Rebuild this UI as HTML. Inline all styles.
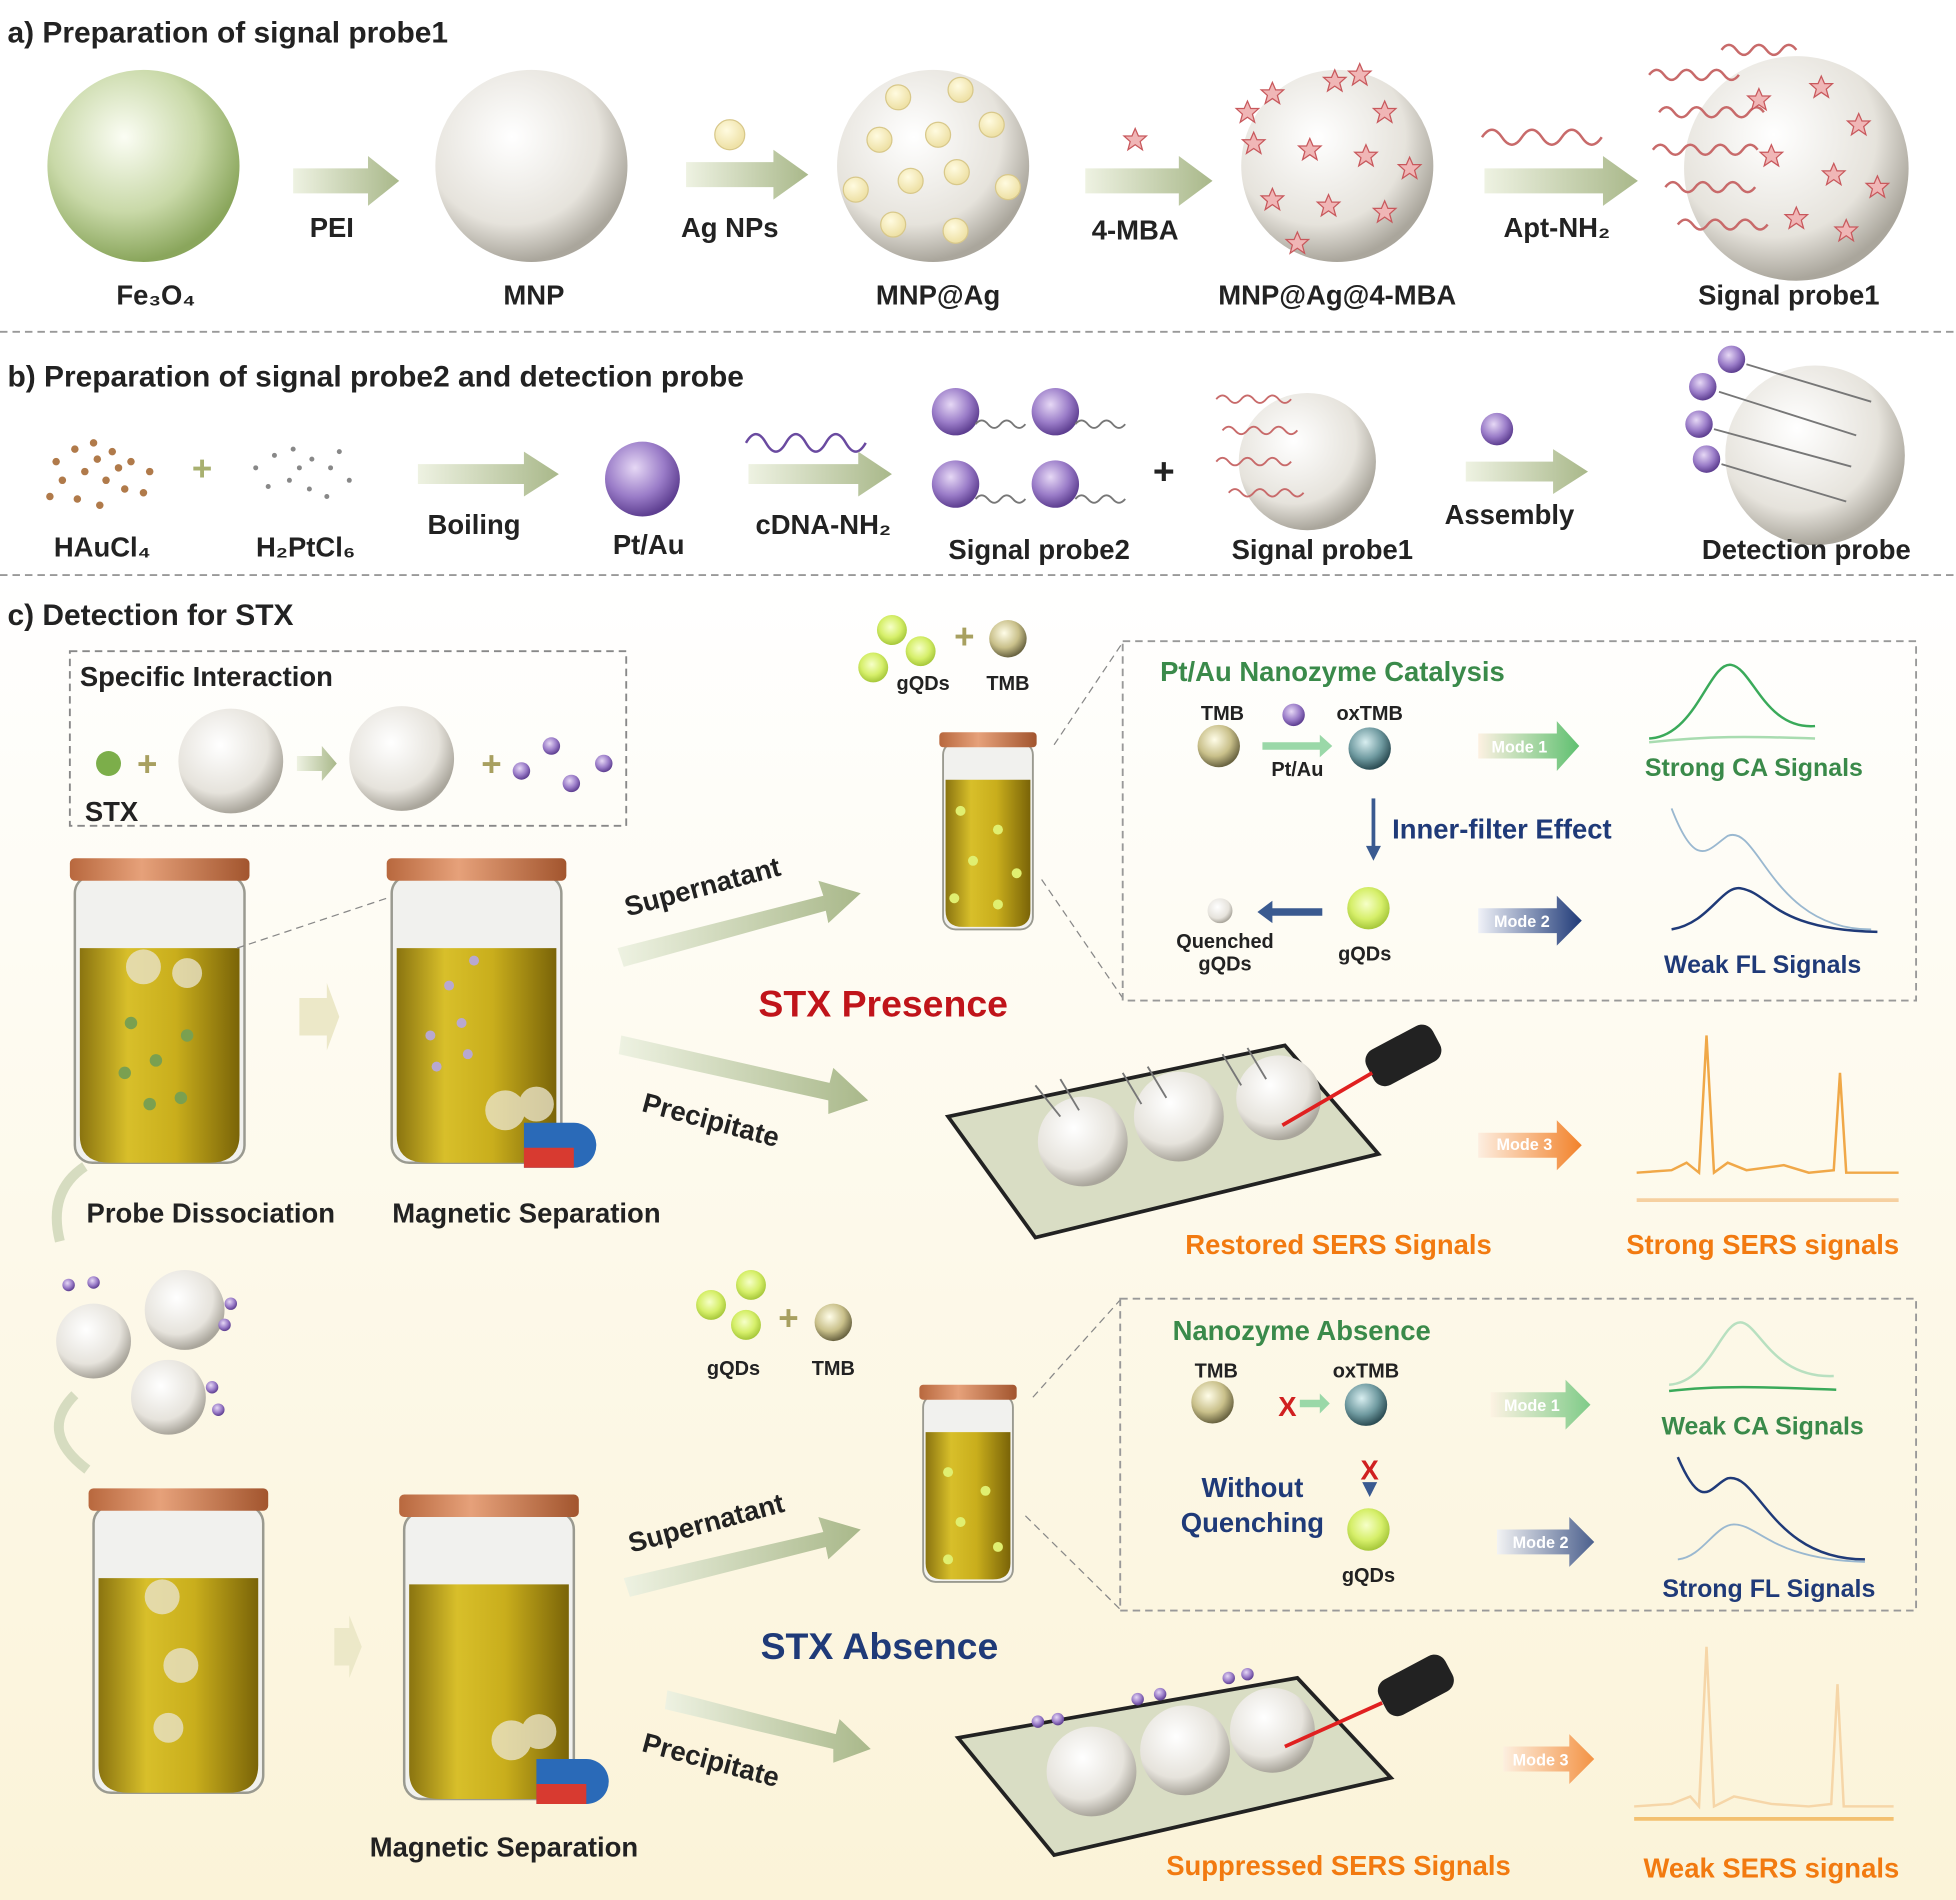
<!DOCTYPE html>
<html><head><meta charset="utf-8">
<style>
html,body{margin:0;padding:0;background:#fff;}
svg{display:block;}
text{font-family:"Liberation Sans",sans-serif;font-weight:bold;}
</style></head>
<body>
<svg width="1956" height="1900" viewBox="0 0 1568 1523" preserveAspectRatio="none" xmlns="http://www.w3.org/2000/svg">
<defs>
<radialGradient id="gGreen" cx="40%" cy="35%" r="65%"><stop offset="0" stop-color="#fbfdf4"/><stop offset="0.6" stop-color="#c9d9a8"/><stop offset="1" stop-color="#8aa65c"/></radialGradient>
<radialGradient id="gWhite" cx="40%" cy="35%" r="65%"><stop offset="0" stop-color="#ffffff"/><stop offset="0.7" stop-color="#e6e3dc"/><stop offset="1" stop-color="#aaa69c"/></radialGradient>
<radialGradient id="gY" cx="40%" cy="35%" r="60%"><stop offset="0" stop-color="#fffbe0"/><stop offset="1" stop-color="#efe2a8"/></radialGradient>
<radialGradient id="gPurple" cx="40%" cy="35%" r="65%"><stop offset="0" stop-color="#e6d8f5"/><stop offset="0.6" stop-color="#9a7cc8"/><stop offset="1" stop-color="#5e3f91"/></radialGradient>
<radialGradient id="gTMB" cx="40%" cy="35%" r="65%"><stop offset="0" stop-color="#fffde8"/><stop offset="0.6" stop-color="#c9c08a"/><stop offset="1" stop-color="#6b6542"/></radialGradient>
<radialGradient id="gOx" cx="40%" cy="35%" r="65%"><stop offset="0" stop-color="#d8eef0"/><stop offset="0.6" stop-color="#6f9aa0"/><stop offset="1" stop-color="#2d4e55"/></radialGradient>
<radialGradient id="gQD" cx="45%" cy="40%" r="60%"><stop offset="0" stop-color="#f6ffc8"/><stop offset="0.6" stop-color="#d6ef6a"/><stop offset="1" stop-color="#a6c73a"/></radialGradient>
<linearGradient id="gArrow" x1="0" x2="1"><stop offset="0" stop-color="#eef2e2"/><stop offset="1" stop-color="#a9b88a"/></linearGradient>
<linearGradient id="gBg" x1="0" y1="0" x2="0" y2="1"><stop offset="0" stop-color="#ffffff"/><stop offset="0.5" stop-color="#fdf9ea"/><stop offset="1" stop-color="#fbf3d8"/></linearGradient>
<linearGradient id="gLiquid" x1="0" x2="1"><stop offset="0" stop-color="#8a7410"/><stop offset="0.3" stop-color="#d8bf2a"/><stop offset="0.6" stop-color="#c9ae1c"/><stop offset="1" stop-color="#7a6408"/></linearGradient>
<linearGradient id="gLid" x1="0" x2="1"><stop offset="0" stop-color="#b8683e"/><stop offset="0.4" stop-color="#e6a17a"/><stop offset="1" stop-color="#a2552e"/></linearGradient>
<linearGradient id="gM1" x1="0" x2="1"><stop offset="0" stop-color="#fdf1e2"/><stop offset="1" stop-color="#5fc070"/></linearGradient>
<linearGradient id="gM2" x1="0" x2="1"><stop offset="0" stop-color="#f0f2f8"/><stop offset="1" stop-color="#1f3a78"/></linearGradient>
<linearGradient id="gM3" x1="0" x2="1"><stop offset="0" stop-color="#fdeee0"/><stop offset="1" stop-color="#f2822a"/></linearGradient>
<g id="star"><polygon points="0,-9 2.6,-3 9,-3 4,1.5 5.8,8 0,4 -5.8,8 -4,1.5 -9,-3 -2.6,-3" fill="#f0b6b6" stroke="#c8585c" stroke-width="1"/></g>
<g id="vial">
 <rect x="-68" y="-8" width="136" height="230" rx="14" fill="#f1f1ee" stroke="#9a9a90" stroke-width="2"/>
 <path d="M-64 50 H64 V200 Q64 222 40 222 H-40 Q-64 222 -64 200 Z" fill="url(#gLiquid)"/>
 <rect x="-72" y="-22" width="144" height="18" rx="4" fill="url(#gLid)"/>
</g>
<g id="svial">
 <rect x="-36" y="0" width="72" height="150" rx="10" fill="#f1f1ee" stroke="#9a9a90" stroke-width="1.5"/>
 <path d="M-34 30 H34 V135 Q34 148 20 148 H-20 Q-34 148 -34 135 Z" fill="url(#gLiquid)"/>
 <rect x="-39" y="-8" width="78" height="12" rx="3" fill="url(#gLid)"/>
</g>
</defs>

<rect x="0" y="0" width="1568" height="1523" fill="#fff"/>
<rect x="0" y="462" width="1568" height="1061" fill="url(#gBg)"/>

<!-- Section a -->
<text x="6" y="34" font-size="24" fill="#222">a) Preparation of signal probe1</text>
<circle cx="115" cy="133" r="77" fill="url(#gGreen)"/>
<circle cx="426" cy="133" r="77" fill="url(#gWhite)"/>
<circle cx="748" cy="133" r="77" fill="url(#gWhite)"/>
<g fill="url(#gY)" stroke="#d8c88a">
<circle cx="720" cy="78" r="10"/><circle cx="770" cy="72" r="10"/><circle cx="705" cy="112" r="10"/><circle cx="752" cy="108" r="10"/><circle cx="795" cy="100" r="10"/><circle cx="686" cy="152" r="10"/><circle cx="730" cy="145" r="10"/><circle cx="767" cy="138" r="10"/><circle cx="808" cy="150" r="10"/><circle cx="716" cy="180" r="10"/><circle cx="766" cy="185" r="10"/></g>
<circle cx="585" cy="108" r="12" fill="url(#gY)" stroke="#d8c88a"/>
<circle cx="1072" cy="133" r="77" fill="url(#gWhite)"/>
<g><use href="#star" x="1020" y="75"/><use href="#star" x="1070" y="65"/><use href="#star" x="1110" y="90"/><use href="#star" x="1005" y="115"/><use href="#star" x="1050" y="120"/><use href="#star" x="1095" y="125"/><use href="#star" x="1130" y="135"/><use href="#star" x="1020" y="160"/><use href="#star" x="1065" y="165"/><use href="#star" x="1110" y="170"/><use href="#star" x="1040" y="195"/><use href="#star" x="1090" y="60"/><use href="#star" x="1000" y="90"/></g>
<use href="#star" x="910" y="112"/>
<circle cx="1440" cy="135" r="90" fill="url(#gWhite)"/>
<g stroke="#c86a6a" stroke-width="2" fill="none">
<path d="M1322 60 q6 -8 12 0 t12 0 t12 0 t12 0 t12 0 t12 0"/>
<path d="M1330 90 q6 -8 12 0 t12 0 t12 0 t12 0 t12 0 t12 0 t12 0"/>
<path d="M1325 120 q6 -8 12 0 t12 0 t12 0 t12 0 t12 0 t12 0 t12 0"/>
<path d="M1335 150 q6 -8 12 0 t12 0 t12 0 t12 0 t12 0 t12 0"/>
<path d="M1345 180 q6 -8 12 0 t12 0 t12 0 t12 0 t12 0 t12 0"/>
<path d="M1380 40 q6 -8 12 0 t12 0 t12 0 t12 0 t12 0"/>
<path d="M1188 110 q8 -12 16 0 t16 0 t16 0 t16 0 t16 0 t16 0"/>
</g>
<g><use href="#star" x="1410" y="80"/><use href="#star" x="1460" y="70"/><use href="#star" x="1490" y="100"/><use href="#star" x="1420" y="125"/><use href="#star" x="1470" y="140"/><use href="#star" x="1505" y="150"/><use href="#star" x="1440" y="175"/><use href="#star" x="1480" y="185"/></g>
<g fill="url(#gArrow)">
<polygon points="235,135 295,135 295,125 320,145 295,165 295,155 235,155"/>
<polygon points="550,130 620,130 620,120 648,140 620,160 620,150 550,150"/>
<polygon points="870,135 945,135 945,125 972,145 945,165 945,155 870,155"/>
<polygon points="1190,135 1285,135 1285,125 1313,145 1285,165 1285,155 1190,155"/>
</g>
<g font-size="22" fill="#222" text-anchor="middle">
<text x="125" y="244">Fe₃O₄</text><text x="266" y="190">PEI</text><text x="428" y="244">MNP</text>
<text x="585" y="190">Ag NPs</text><text x="752" y="244">MNP@Ag</text><text x="910" y="192">4-MBA</text>
<text x="1072" y="244">MNP@Ag@4-MBA</text><text x="1248" y="190">Apt-NH₂</text><text x="1434" y="244">Signal probe1</text>
</g>
<line x1="0" y1="266" x2="1568" y2="266" stroke="#999" stroke-width="1.5" stroke-dasharray="6,4"/>

<!-- Section b -->
<text x="6" y="310" font-size="24" fill="#222">b) Preparation of signal probe2 and detection probe</text>
<g fill="#b07a4a"><circle cx="45" cy="370" r="3"/><circle cx="60" cy="360" r="3"/><circle cx="75" cy="355" r="3"/><circle cx="90" cy="362" r="3"/><circle cx="105" cy="370" r="3"/><circle cx="120" cy="378" r="3"/><circle cx="50" cy="385" r="3"/><circle cx="68" cy="378" r="3"/><circle cx="85" cy="385" r="3"/><circle cx="100" cy="392" r="3"/><circle cx="115" cy="395" r="3"/><circle cx="40" cy="398" r="3"/><circle cx="62" cy="400" r="3"/><circle cx="80" cy="405" r="3"/><circle cx="95" cy="375" r="3"/><circle cx="78" cy="368" r="3"/></g>
<g fill="#888"><circle cx="205" cy="375" r="2"/><circle cx="220" cy="365" r="2"/><circle cx="235" cy="360" r="2"/><circle cx="250" cy="368" r="2"/><circle cx="265" cy="375" r="2"/><circle cx="280" cy="385" r="2"/><circle cx="215" cy="390" r="2"/><circle cx="232" cy="385" r="2"/><circle cx="248" cy="392" r="2"/><circle cx="262" cy="398" r="2"/><circle cx="240" cy="375" r="2"/><circle cx="272" cy="362" r="2"/></g>
<text x="162" y="385" font-size="28" fill="#a8b070" text-anchor="middle">+</text>
<polygon points="335,372 420,372 420,362 448,380 420,398 420,388 335,388" fill="url(#gArrow)"/>
<circle cx="515" cy="384" r="30" fill="url(#gPurple)"/>
<path d="M598 355 q8 -14 16 0 t16 0 t16 0 t16 0 t16 0 t16 0" stroke="#6a4aa0" stroke-width="2" fill="none"/>
<polygon points="600,372 688,372 688,362 715,380 688,398 688,388 600,388" fill="url(#gArrow)"/>
<g><circle cx="766" cy="330" r="19" fill="url(#gPurple)"/><circle cx="846" cy="330" r="19" fill="url(#gPurple)"/><circle cx="766" cy="388" r="19" fill="url(#gPurple)"/><circle cx="846" cy="388" r="19" fill="url(#gPurple)"/>
<g stroke="#777" stroke-width="1.5" fill="none"><path d="M782 340 q5 -6 10 0 t10 0 t10 0 t10 0"/><path d="M862 340 q5 -6 10 0 t10 0 t10 0 t10 0"/><path d="M782 400 q5 -6 10 0 t10 0 t10 0 t10 0"/><path d="M862 400 q5 -6 10 0 t10 0 t10 0 t10 0"/></g></g>
<text x="933" y="388" font-size="30" fill="#222" text-anchor="middle">+</text>
<circle cx="1048" cy="370" r="55" fill="url(#gWhite)"/>
<g stroke="#c86a6a" stroke-width="1.5" fill="none"><path d="M975 320 q5 -6 10 0 t10 0 t10 0 t10 0 t10 0 t10 0"/><path d="M980 345 q5 -6 10 0 t10 0 t10 0 t10 0 t10 0 t10 0"/><path d="M975 370 q5 -6 10 0 t10 0 t10 0 t10 0 t10 0 t10 0"/><path d="M985 395 q5 -6 10 0 t10 0 t10 0 t10 0 t10 0 t10 0"/></g>
<circle cx="1200" cy="344" r="13" fill="url(#gPurple)"/>
<polygon points="1175,370 1245,370 1245,360 1273,378 1245,396 1245,386 1175,386" fill="url(#gArrow)"/>
<circle cx="1455" cy="365" r="72" fill="url(#gWhite)"/>
<g><circle cx="1388" cy="288" r="11" fill="url(#gPurple)"/><circle cx="1365" cy="310" r="11" fill="url(#gPurple)"/><circle cx="1362" cy="340" r="11" fill="url(#gPurple)"/><circle cx="1368" cy="368" r="11" fill="url(#gPurple)"/></g>
<g stroke="#777" stroke-width="1.5" fill="none"><path d="M1400 292 l100 30"/><path d="M1378 314 l110 35"/><path d="M1374 344 l110 30"/><path d="M1380 372 l100 30"/></g>
<g font-size="22" fill="#222" text-anchor="middle">
<text x="82" y="446">HAuCl₄</text><text x="245" y="446">H₂PtCl₆</text><text x="380" y="428">Boiling</text><text x="520" y="444">Pt/Au</text>
<text x="660" y="428">cDNA-NH₂</text><text x="833" y="448">Signal probe2</text><text x="1060" y="448">Signal probe1</text>
<text x="1210" y="420">Assembly</text><text x="1448" y="448">Detection probe</text></g>
<line x1="0" y1="461" x2="1568" y2="461" stroke="#999" stroke-width="1.5" stroke-dasharray="6,4"/>

<!-- Section c -->
<text x="6" y="501" font-size="24" fill="#222">c) Detection for STX</text>
<rect x="56" y="522" width="446" height="140" fill="none" stroke="#888" stroke-width="1.5" stroke-dasharray="6,4"/>
<text x="64" y="550" font-size="22" fill="#222">Specific Interaction</text>
<text x="68" y="658" font-size="22" fill="#222">STX</text>
<circle cx="87" cy="612" r="10" fill="#7cae4a"/><text x="118" y="622" font-size="28" fill="#a8a060" text-anchor="middle">+</text>
<circle cx="185" cy="610" r="42" fill="url(#gWhite)"/><circle cx="322" cy="608" r="42" fill="url(#gWhite)"/>
<polygon points="238,606 258,606 258,598 270,612 258,626 258,618 238,618" fill="url(#gArrow)"/>
<text x="394" y="622" font-size="28" fill="#a8a060" text-anchor="middle">+</text>
<g fill="url(#gPurple)"><circle cx="442" cy="598" r="7"/><circle cx="418" cy="618" r="7"/><circle cx="458" cy="628" r="7"/><circle cx="484" cy="612" r="7"/></g>

<use href="#vial" x="128" y="710"/>
<use href="#vial" x="382" y="710"/>
<g fill="#e8e2c8" opacity="0.8"><circle cx="115" cy="775" r="14"/><circle cx="150" cy="780" r="12"/><circle cx="405" cy="890" r="16"/><circle cx="430" cy="885" r="14"/></g>
<g fill="#7aa050"><circle cx="105" cy="820" r="5"/><circle cx="150" cy="830" r="5"/><circle cx="125" cy="850" r="5"/><circle cx="100" cy="860" r="5"/><circle cx="145" cy="880" r="5"/><circle cx="120" cy="885" r="5"/></g>
<g fill="#b8a8d0"><circle cx="360" cy="790" r="4"/><circle cx="380" cy="770" r="4"/><circle cx="370" cy="820" r="4"/><circle cx="345" cy="830" r="4"/><circle cx="375" cy="845" r="4"/><circle cx="350" cy="855" r="4"/></g>
<path d="M420 900 h40 a18 18 0 0 1 0 36 h-40 z" fill="#2a6ab8"/><path d="M420 920 h40 v16 h-40z" fill="#d83a30"/>
<polygon points="240,800 262,800 262,788 272,815 262,842 262,830 240,830" fill="#ece8c8"/>
<line x1="190" y1="760" x2="310" y2="720" stroke="#888" stroke-dasharray="6,4"/>
<g font-size="22" fill="#222" text-anchor="middle"><text x="169" y="980">Probe Dissociation</text><text x="422" y="980">Magnetic Separation</text><text x="404" y="1488">Magnetic Separation</text></g>
<path d="M48 995 q-10 -40 20 -60" stroke="#d6dcc0" stroke-width="8" fill="none"/>
<path d="M60 1118 q-30 30 10 60" stroke="#d6dcc0" stroke-width="8" fill="none"/>

<!-- supernatant/precipitate arrows top -->
<polygon points="495,760 660,718 656,706 690,716 664,740 662,730 500,775" fill="url(#gArrow)"/>
<text x="565" y="718" font-size="22" fill="#222" text-anchor="middle" transform="rotate(-15 565 718)">Supernatant</text>
<polygon points="498,830 665,868 668,856 696,882 664,893 664,882 496,845" fill="url(#gArrow)"/>
<text x="568" y="905" font-size="22" fill="#222" text-anchor="middle" transform="rotate(15 568 905)">Precipitate</text>
<text x="708" y="815" font-size="30" fill="#c0141a" text-anchor="middle">STX Presence</text>

<g><circle cx="715" cy="505" r="12" fill="url(#gQD)"/><circle cx="738" cy="522" r="12" fill="url(#gQD)"/><circle cx="700" cy="535" r="12" fill="url(#gQD)"/><text x="773" y="520" font-size="28" fill="#a8a060" text-anchor="middle">+</text><circle cx="808" cy="512" r="15" fill="url(#gTMB)"/>
<text x="740" y="553" font-size="16" fill="#222" text-anchor="middle">gQDs</text><text x="808" y="553" font-size="16" fill="#222" text-anchor="middle">TMB</text></g>
<use href="#svial" x="792" y="595"/>
<g fill="#e0ef70"><circle cx="770" cy="650" r="4"/><circle cx="800" cy="665" r="4"/><circle cx="780" cy="690" r="4"/><circle cx="815" cy="700" r="4"/><circle cx="765" cy="720" r="4"/><circle cx="800" cy="725" r="4"/></g>
<line x1="845" y1="597" x2="900" y2="515" stroke="#888" stroke-dasharray="6,4"/><line x1="835" y1="705" x2="900" y2="800" stroke="#888" stroke-dasharray="6,4"/>
<rect x="900" y="514" width="636" height="288" fill="none" stroke="#999" stroke-width="1.5" stroke-dasharray="6,4"/>
<text x="930" y="546" font-size="22" fill="#3a8a4a">Pt/Au Nanozyme Catalysis</text>
<text x="980" y="577" font-size="16" fill="#222" text-anchor="middle">TMB</text><text x="1098" y="577" font-size="16" fill="#222" text-anchor="middle">oxTMB</text>
<circle cx="977" cy="598" r="17" fill="url(#gTMB)"/><circle cx="1037" cy="573" r="9" fill="url(#gPurple)"/><circle cx="1098" cy="600" r="17" fill="url(#gOx)"/>
<polygon points="1012,595 1058,595 1058,589 1068,598 1058,607 1058,601 1012,601" fill="#9ad8a8"/>
<text x="1040" y="622" font-size="16" fill="#222" text-anchor="middle">Pt/Au</text>
<line x1="1101" y1="640" x2="1101" y2="680" stroke="#3a5a90" stroke-width="3"/><polygon points="1095,678 1107,678 1101,690" fill="#3a5a90"/>
<text x="1116" y="672" font-size="22" fill="#1f3a78">Inner-filter Effect</text>
<circle cx="978" cy="730" r="10" fill="url(#gWhite)"/><polygon points="1060,728 1020,728 1020,722 1008,731 1020,740 1020,734 1060,734" fill="#3a5a90"/>
<circle cx="1097" cy="728" r="17" fill="url(#gQD)"/>
<text x="982" y="760" font-size="16" fill="#222" text-anchor="middle">Quenched</text><text x="982" y="778" font-size="16" fill="#222" text-anchor="middle">gQDs</text><text x="1094" y="770" font-size="16" fill="#222" text-anchor="middle">gQDs</text>
<polygon points="1185,588 1248,588 1248,578 1266,598 1248,618 1248,608 1185,608" fill="url(#gM1)"/><text x="1218" y="603" font-size="13" fill="#fff" text-anchor="middle">Mode 1</text>
<polygon points="1185,728 1248,728 1248,718 1268,738 1248,758 1248,748 1185,748" fill="url(#gM2)"/><text x="1220" y="743" font-size="13" fill="#fff" text-anchor="middle">Mode 2</text>
<path d="M1322 592 C1360 590 1370 530 1388 533 C1405 536 1415 585 1455 582" stroke="#3aaa5a" stroke-width="2" fill="none"/><path d="M1322 595 C1370 590 1400 590 1455 592" stroke="#a8dcb0" stroke-width="2" fill="none"/>
<text x="1406" y="622" font-size="20" fill="#3a8a4a" text-anchor="middle">Strong CA Signals</text>
<path d="M1340 648 C1360 700 1370 680 1385 670 C1410 660 1420 745 1500 745" stroke="#9ab8d0" stroke-width="1.5" fill="none"/><path d="M1340 745 C1370 740 1380 710 1395 712 C1420 716 1420 745 1505 747" stroke="#1f3a78" stroke-width="2" fill="none"/>
<text x="1413" y="780" font-size="20" fill="#1f3a78" text-anchor="middle">Weak FL Signals</text>

<!-- SERS chip top -->
<polygon points="760,895 1030,838 1105,925 830,992" fill="#d9ddc4" stroke="#222" stroke-width="3"/>
<circle cx="868" cy="915" r="36" fill="url(#gWhite)"/><circle cx="945" cy="895" r="36" fill="url(#gWhite)"/><circle cx="1025" cy="880" r="34" fill="url(#gWhite)"/>
<g stroke="#777" stroke-width="1.5" fill="none"><path d="M830 870 l20 25"/><path d="M850 865 l15 25"/><path d="M900 860 l15 25"/><path d="M920 855 l15 25"/><path d="M980 845 l15 25"/><path d="M1000 840 l15 25"/></g>
<rect x="1095" y="830" width="60" height="32" rx="10" fill="#222" transform="rotate(-28 1125 846)"/>
<line x1="1100" y1="860" x2="1028" y2="902" stroke="#e02020" stroke-width="3"/>
<polygon points="1185,908 1248,908 1248,898 1268,918 1248,938 1248,928 1185,928" fill="url(#gM3)"/><text x="1222" y="922" font-size="13" fill="#fff" text-anchor="middle">Mode 3</text>
<path d="M1312 940 L1340 938 L1352 932 L1362 940 L1368 830 L1374 940 L1385 932 L1400 938 L1430 934 L1450 940 L1470 938 L1475 860 L1480 940 L1522 940" stroke="#f0a848" stroke-width="2" fill="none"/>
<path d="M1312 962 L1522 962" stroke="#f6d0a0" stroke-width="3" fill="none"/>
<text x="1073" y="1005" font-size="22" fill="#f27a10" text-anchor="middle">Restored SERS Signals</text>
<text x="1413" y="1005" font-size="22" fill="#f27a10" text-anchor="middle">Strong SERS signals</text>

<!-- bottom half -->
<g><circle cx="75" cy="1075" r="30" fill="url(#gWhite)"/><circle cx="148" cy="1050" r="32" fill="url(#gWhite)"/><circle cx="135" cy="1120" r="30" fill="url(#gWhite)"/>
<g fill="url(#gPurple)"><circle cx="55" cy="1030" r="5"/><circle cx="75" cy="1028" r="5"/><circle cx="185" cy="1045" r="5"/><circle cx="180" cy="1062" r="5"/><circle cx="175" cy="1130" r="5"/><circle cx="170" cy="1112" r="5"/></g></g>
<use href="#vial" x="143" y="1215"/>
<use href="#vial" x="392" y="1220"/>
<g fill="#e8e2c8" opacity="0.8"><circle cx="130" cy="1280" r="14"/><circle cx="145" cy="1335" r="14"/><circle cx="135" cy="1385" r="12"/><circle cx="410" cy="1395" r="16"/><circle cx="432" cy="1388" r="14"/></g>
<path d="M430 1410 h40 a18 18 0 0 1 0 36 h-40 z" fill="#2a6ab8"/><path d="M430 1430 h40 v16 h-40z" fill="#d83a30"/>
<polygon points="268,1305 280,1305 280,1295 290,1320 280,1345 280,1335 268,1335" fill="#ece8c8"/>
<polygon points="500,1265 660,1228 656,1216 690,1226 664,1250 662,1240 505,1280" fill="url(#gArrow)"/>
<text x="568" y="1228" font-size="22" fill="#222" text-anchor="middle" transform="rotate(-15 568 1228)">Supernatant</text>
<polygon points="535,1355 670,1390 673,1378 698,1402 668,1413 668,1402 533,1370" fill="url(#gArrow)"/>
<text x="568" y="1418" font-size="22" fill="#222" text-anchor="middle" transform="rotate(15 568 1418)">Precipitate</text>
<text x="705" y="1330" font-size="30" fill="#1f3a78" text-anchor="middle">STX Absence</text>

<g><circle cx="602" cy="1030" r="12" fill="url(#gQD)"/><circle cx="570" cy="1046" r="12" fill="url(#gQD)"/><circle cx="598" cy="1062" r="12" fill="url(#gQD)"/><text x="632" y="1066" font-size="28" fill="#a8a060" text-anchor="middle">+</text><circle cx="668" cy="1060" r="15" fill="url(#gTMB)"/>
<text x="588" y="1102" font-size="16" fill="#222" text-anchor="middle">gQDs</text><text x="668" y="1102" font-size="16" fill="#222" text-anchor="middle">TMB</text></g>
<use href="#svial" x="776" y="1118"/>
<g fill="#e0ef70"><circle cx="760" cy="1180" r="4"/><circle cx="790" cy="1195" r="4"/><circle cx="770" cy="1220" r="4"/><circle cx="800" cy="1240" r="4"/><circle cx="760" cy="1250" r="4"/></g>
<line x1="828" y1="1120" x2="898" y2="1042" stroke="#888" stroke-dasharray="6,4"/><line x1="822" y1="1215" x2="898" y2="1290" stroke="#888" stroke-dasharray="6,4"/>
<rect x="898" y="1041" width="638" height="250" fill="none" stroke="#999" stroke-width="1.5" stroke-dasharray="6,4"/>
<text x="940" y="1074" font-size="22" fill="#3a8a4a">Nanozyme Absence</text>
<text x="975" y="1104" font-size="16" fill="#222" text-anchor="middle">TMB</text><text x="1095" y="1104" font-size="16" fill="#222" text-anchor="middle">oxTMB</text>
<circle cx="972" cy="1124" r="17" fill="url(#gTMB)"/><circle cx="1095" cy="1126" r="17" fill="url(#gOx)"/>
<text x="1032" y="1135" font-size="22" fill="#d02020" text-anchor="middle">X</text><polygon points="1042,1122 1058,1122 1058,1117 1066,1125 1058,1133 1058,1128 1042,1128" fill="#9ad8a8"/>
<text x="1098" y="1186" font-size="22" fill="#d02020" text-anchor="middle">X</text><polygon points="1092,1188 1104,1188 1098,1200" fill="#3a5a90"/>
<circle cx="1097" cy="1226" r="17" fill="url(#gQD)"/>
<text x="1004" y="1200" font-size="22" fill="#1f3a78" text-anchor="middle">Without</text><text x="1004" y="1228" font-size="22" fill="#1f3a78" text-anchor="middle">Quenching</text>
<text x="1097" y="1268" font-size="16" fill="#222" text-anchor="middle">gQDs</text>
<polygon points="1195,1116 1255,1116 1255,1106 1275,1126 1255,1146 1255,1136 1195,1136" fill="url(#gM1)" opacity="0.8"/><text x="1228" y="1131" font-size="13" fill="#fff" text-anchor="middle">Mode 1</text>
<polygon points="1200,1226 1258,1226 1258,1216 1278,1236 1258,1256 1258,1246 1200,1246" fill="url(#gM2)" opacity="0.8"/><text x="1235" y="1241" font-size="13" fill="#fff" text-anchor="middle">Mode 2</text>
<path d="M1338 1110 C1370 1108 1380 1060 1395 1060 C1410 1060 1420 1105 1470 1103" stroke="#b8e0c0" stroke-width="2" fill="none"/><path d="M1338 1115 C1380 1110 1420 1112 1472 1114" stroke="#3aaa5a" stroke-width="2" fill="none"/>
<text x="1413" y="1150" font-size="20" fill="#3a8a4a" text-anchor="middle">Weak CA Signals</text>
<path d="M1345 1168 C1365 1215 1372 1190 1385 1185 C1410 1180 1420 1250 1495 1250" stroke="#1f3a78" stroke-width="2" fill="none"/><path d="M1345 1250 C1365 1248 1375 1222 1390 1222 C1410 1222 1420 1250 1495 1252" stroke="#9ab8d0" stroke-width="1.5" fill="none"/>
<text x="1418" y="1280" font-size="20" fill="#1f3a78" text-anchor="middle">Strong FL Signals</text>

<polygon points="768,1393 1040,1345 1115,1425 845,1487" fill="#d9ddc4" stroke="#222" stroke-width="3"/>
<circle cx="875" cy="1420" r="36" fill="url(#gWhite)"/><circle cx="950" cy="1403" r="36" fill="url(#gWhite)"/><circle cx="1020" cy="1387" r="34" fill="url(#gWhite)"/>
<g fill="url(#gPurple)"><circle cx="832" cy="1380" r="5"/><circle cx="848" cy="1378" r="5"/><circle cx="912" cy="1362" r="5"/><circle cx="930" cy="1358" r="5"/><circle cx="985" cy="1345" r="5"/><circle cx="1000" cy="1342" r="5"/></g>
<rect x="1105" y="1335" width="60" height="32" rx="10" fill="#222" transform="rotate(-28 1135 1351)"/>
<line x1="1108" y1="1365" x2="1030" y2="1400" stroke="#e02020" stroke-width="3"/>
<polygon points="1205,1400 1258,1400 1258,1390 1278,1410 1258,1430 1258,1420 1205,1420" fill="url(#gM3)" opacity="0.85"/><text x="1235" y="1415" font-size="13" fill="#fff" text-anchor="middle">Mode 3</text>
<path d="M1310 1448 L1340 1446 L1355 1440 L1362 1448 L1368 1320 L1374 1448 L1390 1440 L1420 1446 L1450 1448 L1468 1446 L1473 1350 L1478 1448 L1518 1448" stroke="#f6d6a8" stroke-width="2" fill="none"/>
<path d="M1310 1458 L1518 1458" stroke="#f3c070" stroke-width="3" fill="none"/>
<text x="1073" y="1503" font-size="22" fill="#f27a10" text-anchor="middle">Suppressed SERS Signals</text>
<text x="1420" y="1505" font-size="22" fill="#f27a10" text-anchor="middle">Weak SERS signals</text>
</svg>
</body></html>
